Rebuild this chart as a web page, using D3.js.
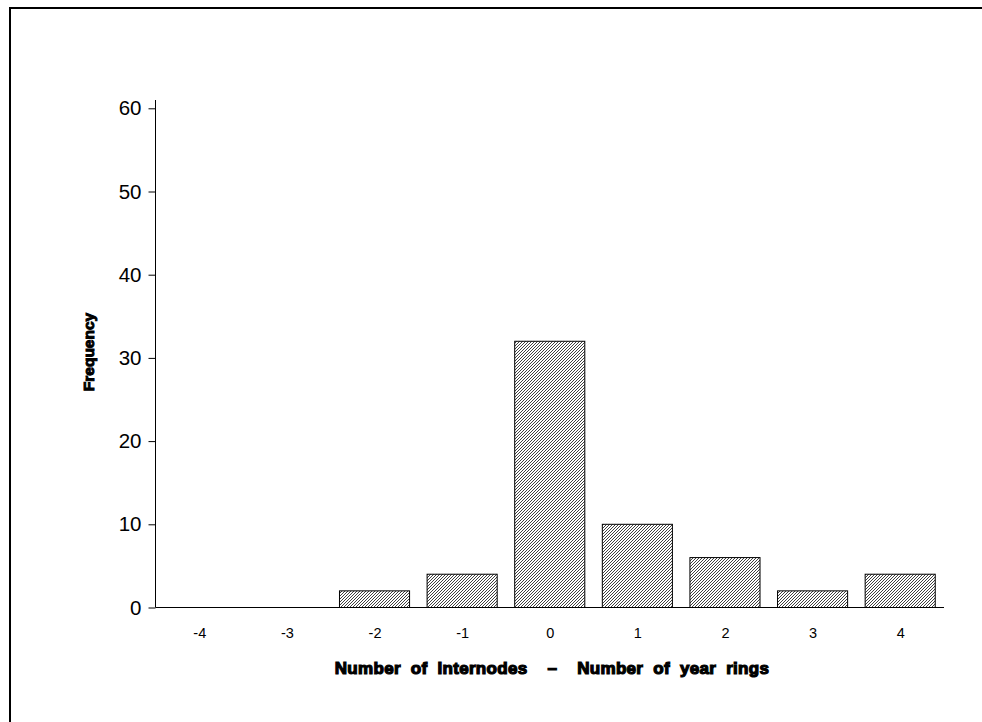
<!DOCTYPE html>
<html>
<head>
<meta charset="utf-8">
<script src="https://cdn.jsdelivr.net/npm/d3@7"></script>
<style>
html,body{margin:0;padding:0;background:#fff;overflow:hidden;}
svg{display:block;}
</style>
</head>
<body>
<svg id="chart" width="982" height="722"></svg>
<script>
const categories = [-4, -3, -2, -1, 0, 1, 2, 3, 4];
const frequencies = [0, 0, 2, 4, 32, 10, 6, 2, 4];
const yTicks = [0, 10, 20, 30, 40, 50, 60];
const xTitle = "Number of Internodes  \u2013  Number of year rings";
const yTitle = "Frequency";

const svg = d3.select("#chart");

// outer frame (only top and left edges fall inside the picture)
svg.append("path").attr("d", "M10,722 L10,8 L982,8")
  .attr("fill", "none").attr("stroke", "#000").attr("stroke-width", 2);

const defs = svg.append("defs");
const pat = defs.append("pattern").attr("id", "hatch")
  .attr("patternUnits", "userSpaceOnUse").attr("width", 3).attr("height", 3);
pat.append("rect").attr("width", 3).attr("height", 3).attr("fill", "#fff");
pat.append("path").attr("d", "M-1,1 L1,-1 M0,3 L3,0 M2,4 L4,2")
  .attr("stroke", "#000").attr("stroke-width", 0.75);

const x = d3.scaleLinear().domain([-4.5, 4.5]).range([155.5, 944]);
const y = d3.scaleLinear().domain([0, 60]).range([607.5, 108.3]);
const barW = 0.8;

// bars
svg.append("g").selectAll("rect").data(categories.map((c, i) => ({c, v: frequencies[i]})).filter(d => d.v > 0))
  .join("rect")
  .attr("x", d => x(d.c - barW / 2))
  .attr("width", d => x(d.c + barW / 2) - x(d.c - barW / 2))
  .attr("y", d => y(d.v))
  .attr("height", d => y(0) - y(d.v))
  .attr("fill", "url(#hatch)")
  .attr("stroke", "#000").attr("stroke-width", 1);

// y axis
const yAxis = d3.axisLeft(y).tickValues(yTicks).tickSize(7).tickPadding(7);
const gy = svg.append("g").attr("transform", "translate(155.5,0)").call(yAxis);
gy.select(".domain").remove();
gy.selectAll("text").attr("font-family", "Liberation Sans, Arial, sans-serif").attr("font-size", 20.5).attr("fill", "#000");
gy.selectAll("line").attr("stroke", "#000");
svg.append("line").attr("x1", 155.5).attr("x2", 155.5).attr("y1", 100).attr("y2", y(0))
  .attr("stroke", "#000").attr("stroke-width", 1);

// x axis
svg.append("line").attr("x1", 155.5).attr("x2", 944).attr("y1", y(0)).attr("y2", y(0))
  .attr("stroke", "#000").attr("stroke-width", 1);
const xAxis = d3.axisBottom(x).tickValues(categories).tickSize(0).tickPadding(20)
  .tickFormat(d => String(d));
const gx = svg.append("g").attr("transform", `translate(0,${y(0)})`).call(xAxis);
gx.select(".domain").remove();
gx.selectAll("text").attr("font-family", "Liberation Sans, Arial, sans-serif").attr("font-size", 14.5).attr("fill", "#000");

// titles
svg.append("text").attr("x", 552).attr("y", 674).attr("text-anchor", "middle")
  .attr("font-family", "Liberation Sans, Arial, sans-serif").attr("font-weight", "bold")
  .attr("font-size", 17).attr("stroke", "#000").attr("stroke-width", 1.2)
  .attr("word-spacing", 5).attr("letter-spacing", 0.3)
  .style("white-space", "pre")
  .text(xTitle);

svg.append("text").attr("transform", "translate(94,352) rotate(-90)").attr("text-anchor", "middle")
  .attr("font-family", "Liberation Sans, Arial, sans-serif").attr("font-weight", "bold")
  .attr("font-size", 15.5).attr("stroke", "#000").attr("stroke-width", 1)
  .text(yTitle);
</script>
</body>
</html>
